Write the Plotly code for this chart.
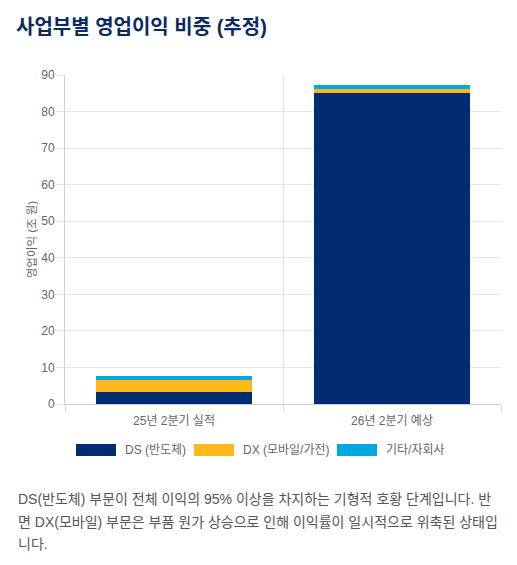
import plotly.graph_objects as go

categories = ["25년 2분기 실적", "26년 2분기 예상"]
series_names = ["DS (반도체)", "DX (모바일/가전)", "기타/자회사"]
ds_values = [3.4, 85.0]
dx_values = [3.1, 1.2]
etc_values = [1.2, 1.2]
colors = ["#002d72", "#ffb81c", "#00a8e1"]
y_ticks = [0, 10, 20, 30, 40, 50, 60, 70, 80, 90]
title_text = "사업부별 영업이익 비중 (추정)"
y_title = "영업이익 (조 원)"
note_lines = [
    "DS(반도체) 부문이 전체 이익의 95% 이상을 차지하는 기형적 호황 단계입니다. 반",
    "면 DX(모바일) 부문은 부품 원가 상승으로 인해 이익률이 일시적으로 위축된 상태입",
    "니다.",
]

FONT = "Liberation Sans, Noto Sans CJK KR, sans-serif"
W, H = 517, 565
L, R, T, B = 65, 16, 75, 161
PW, PH = W - L - R, H - T - B


def px(x):
    return (x - L) / PW


def py(y):
    return (H - B - y) / PH


fig = go.Figure()
for name, vals, col in zip(series_names, [ds_values, dx_values, etc_values], colors):
    fig.add_trace(go.Bar(
        x=categories, y=vals, name=name, marker=dict(color=col, line=dict(width=0)),
        showlegend=False,
    ))

# custom legend (Chart.js style wide boxes)
legend_box_x = [76, 194, 337]
for i, name in enumerate(series_names):
    x0 = legend_box_x[i]
    fig.add_shape(type="rect", xref="paper", yref="paper",
                  x0=px(x0), x1=px(x0 + 40), y0=py(456), y1=py(444),
                  fillcolor=colors[i], line=dict(width=0))
    fig.add_annotation(xref="paper", yref="paper", x=px(x0 + 47), y=py(450),
                       text=name, showarrow=False, xanchor="left", yanchor="middle",
                       font=dict(family=FONT, size=12, color="#666666"))

for i, line in enumerate(note_lines):
    fig.add_annotation(xref="paper", yref="paper", x=px(16), y=py(499 + i * 22.5),
                       text=line, showarrow=False, xanchor="left", yanchor="middle",
                       font=dict(family=FONT, size=14, color="#555555"))

fig.update_layout(
    width=W, height=H,
    margin=dict(l=L, r=R, t=T, b=B),
    barmode="stack",
    bargap=0.28,
    plot_bgcolor="white",
    paper_bgcolor="white",
    title=dict(text="<b>" + title_text + "</b>", xref="container", yref="container",
               x=16 / W, xanchor="left", y=1 - 27 / H, yanchor="middle",
               font=dict(family=FONT, size=20, color="#0a2a66")),
    font=dict(family=FONT, size=12, color="#666666"),
)
fig.update_xaxes(
    type="category", tickson="boundaries", ticks="outside", ticklen=8,
    tickcolor="#e0e0e0", showgrid=True, gridcolor="#e5e5e5",
    showline=True, linecolor="#d0d0d0", linewidth=1, ticklabelstandoff=6,
    tickfont=dict(family=FONT, size=12, color="#666666"),
)
fig.update_yaxes(
    range=[0, 90], tickvals=y_ticks, ticks="outside", ticklen=7,
    tickcolor="#e0e0e0", showgrid=True, gridcolor="#e5e5e5", zeroline=False,
    showline=True, linecolor="#d0d0d0", linewidth=1,
    tickfont=dict(family=FONT, size=12, color="#666666"),
    title=dict(text=y_title, standoff=2, font=dict(family=FONT, size=11.5, color="#666666")),
)

fig.write_html("out.html", config={"displayModeBar": False},
               post_script="document.body.style.margin='0';")
